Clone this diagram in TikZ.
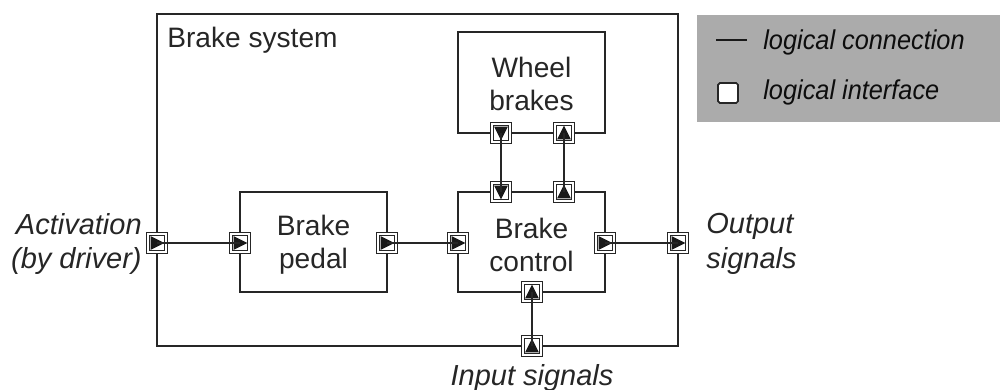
\documentclass[tikz,border=0pt]{standalone}
\usepackage{fontspec}
\setmainfont{Liberation Sans}
\begin{document}
\begin{tikzpicture}[x=0.02cm,y=-0.02cm,
  box/.style={draw=black!85, line width=0.75pt, inner sep=0pt},
  conn/.style={draw=black!85, line width=0.8pt},
  ifbase/.style={draw=black!85, double, double distance=1.3pt, line width=0.5pt, fill=white,
    minimum size=10.3pt, inner sep=0pt, outer sep=0pt},
  ifR/.style={ifbase, path picture={\fill[black!90]
      ([shift={(-3.6pt,-3.9pt)}]path picture bounding box.center) --
      ([shift={(4.2pt,0pt)}]path picture bounding box.center) --
      ([shift={(-3.6pt,3.9pt)}]path picture bounding box.center) -- cycle;}},
  ifU/.style={ifbase, path picture={\fill[black!90]
      ([shift={(-3.9pt,-3.6pt)}]path picture bounding box.center) --
      ([shift={(0pt,4.2pt)}]path picture bounding box.center) --
      ([shift={(3.9pt,-3.6pt)}]path picture bounding box.center) -- cycle;}},
  ifD/.style={ifbase, path picture={\fill[black!90]
      ([shift={(-3.9pt,3.6pt)}]path picture bounding box.center) --
      ([shift={(0pt,-4.2pt)}]path picture bounding box.center) --
      ([shift={(3.9pt,3.6pt)}]path picture bounding box.center) -- cycle;}},
  lbl/.style={font=\fontsize{16}{19}\selectfont, text=black!85, align=center, inner sep=0pt},
  ext/.style={font=\fontsize{16.5}{19.5}\selectfont\itshape, text=black!85, inner sep=0pt},
  leg/.style={font=\fontsize{15.5}{18}\selectfont\itshape, text=black!95, inner sep=0pt}
]
\useasboundingbox (0,0) rectangle (1000,389);

% legend
\node[fill=black!33, minimum width=6.06cm, minimum height=2.14cm, inner sep=0pt] (legend) at (848.5,68.5) {};
\coordinate (la) at (716,40);
\coordinate (lb) at (747,40);
\draw[line width=0.7pt, black!90] (la) -- (lb);
\node[draw=black!85, line width=1pt, fill=white, rounded corners=1pt, minimum size=0.4cm, inner sep=0pt] (legsq) at (728,93) {};
\node[leg, anchor=base west] (legt1) at (763,49) {\scalebox{0.93}[1]{logical connection}};
\node[leg, anchor=base west] (legt2) at (763,99) {\scalebox{0.93}[1]{logical interface}};

% boxes
\node[box, minimum width=10.42cm, minimum height=6.64cm] (sys) at (417.5,180) {};
\node[box, minimum width=2.94cm, minimum height=2.02cm] (wb) at (531.5,82.5) {};
\node[box, minimum width=2.94cm, minimum height=2.0cm] (bp) at (313.5,242) {};
\node[box, minimum width=2.94cm, minimum height=2.0cm] (bc) at (531.5,242) {};

\node[lbl] (wbt) at (531.5,84) {Wheel\\brakes};
\node[lbl] (bpt) at (313.5,245) {Brake\\pedal};
\node[lbl] (bct) at (531.5,245) {Brake\\control};
\node[lbl, anchor=base west] (title) at (167,47) {Brake system};

% interfaces
\node[ifR] (i1) at (157,243) {};
\node[ifR] (i2) at (240,243) {};
\node[ifR] (i3) at (387,243) {};
\node[ifR] (i4) at (458,243) {};
\node[ifR] (i5) at (605,243) {};
\node[ifR] (i6) at (678,243) {};
\node[ifD] (w1) at (501,133) {};
\node[ifU] (w2) at (564,133) {};
\node[ifD] (c1) at (501,192) {};
\node[ifU] (c2) at (564,192) {};
\node[ifU] (c3) at (532,292) {};
\node[ifU] (i7) at (532,346) {};

% connectors
\draw[conn] (i1.center) -- (i2.center);
\draw[conn] (i3.center) -- (i4.center);
\draw[conn] (i5.center) -- (i6.center);
\draw[conn] (w1.center) -- (c1.center);
\draw[conn] (w2.center) -- (c2.center);
\draw[conn] (c3.center) -- (i7.center);

% external labels
\node[ext, anchor=east, align=right] (act) at (142,244) {Activation\\(by driver)};
\node[ext, anchor=west, align=left] (out) at (706,244) {Output\\signals};
\node[ext, anchor=base] (inp) at (532,385) {Input signals};
\end{tikzpicture}
\end{document}
